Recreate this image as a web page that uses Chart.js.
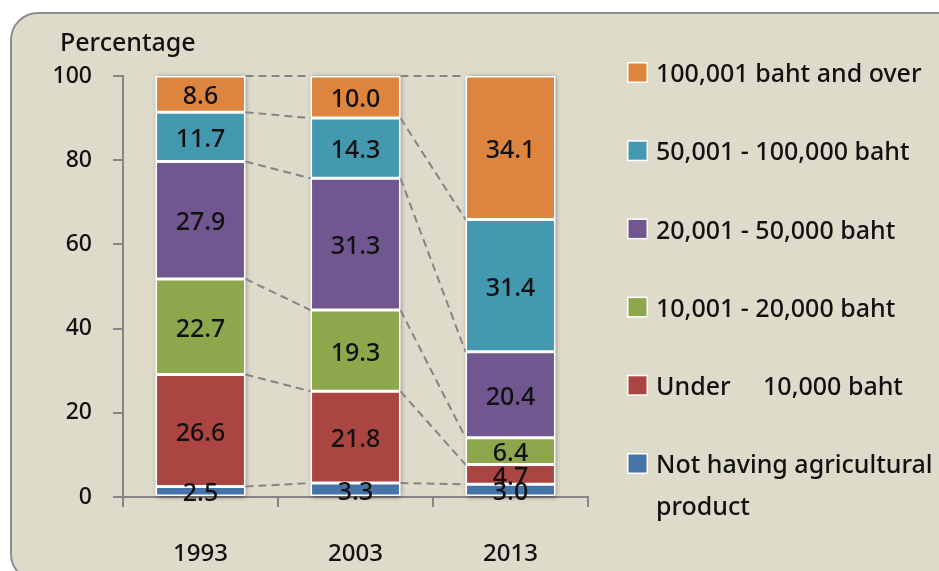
<!DOCTYPE html>
<html><head><meta charset="utf-8">
<script src="https://cdn.jsdelivr.net/npm/chart.js@4.4.1/dist/chart.umd.min.js"></script>
<style>
html,body{margin:0;padding:0;background:#fff;overflow:hidden;width:939px;height:571px}
#frame{position:absolute;left:10px;top:12px;width:960px;height:570px;border:2px solid #8d8d8d;border-radius:28px;background:#DEDBCB;box-sizing:border-box}
#c{position:absolute;left:0;top:0}
</style></head><body>
<div id="frame"></div>
<canvas id="c" width="939" height="571"></canvas>
<script>
const categories = ['1993', '2003', '2013'];
const yTicks = [0, 20, 40, 60, 80, 100];
const seriesNames = ['Not having agricultural product', 'Under    10,000 baht', '10,001 - 20,000 baht', '20,001 - 50,000 baht', '50,001 - 100,000 baht', '100,001 baht and over'];
const legendLines = [['Not having agricultural', 'product'], ['Under     10,000 baht'], ['10,001 - 20,000 baht'], ['20,001 - 50,000 baht'], ['50,001 - 100,000 baht'], ['100,001 baht and over']];
const notHaving = [2.5, 3.3, 3.0];
const under10k = [26.6, 21.8, 4.7];
const from10kTo20k = [22.7, 19.3, 6.4];
const from20kTo50k = [27.9, 31.3, 20.4];
const from50kTo100k = [11.7, 14.3, 31.4];
const over100k = [8.6, 10.0, 34.1];
const colors = ['#4674A8', '#AA4542', '#8CA74C', '#70578F', '#4399B0', '#DD843E'];
const seriesValues = [notHaving, under10k, from10kTo20k, from20kTo50k, from50kTo100k, over100k];

const FONT = "'Noto Sans', sans-serif";
const W = '500 ';
const AXIS = '#868686';

const overlay = {
  id: 'overlay',
  beforeDatasetsDraw(chart) {
    const ctx = chart.ctx;
    const metas = chart.data.datasets.map((d, i) => chart.getDatasetMeta(i));
    const n = chart.data.labels.length;
    ctx.save();
    for (let i = 0; i < n; i++) {
      const top = metas[metas.length - 1].data[i], bot = metas[0].data[i];
      ctx.shadowColor = 'rgba(0,0,0,0.45)';
      ctx.shadowBlur = 5; ctx.shadowOffsetX = 1; ctx.shadowOffsetY = 1;
      ctx.fillStyle = '#ffffff';
      ctx.fillRect(top.x - top.width / 2, top.y, top.width, bot.base - top.y);
    }
    ctx.restore();
    ctx.save();
    ctx.strokeStyle = '#848484'; ctx.lineWidth = 2; ctx.setLineDash([8, 5]);
    for (let i = 0; i < n - 1; i++) {
      metas.forEach(m => {
        const a = m.data[i], b = m.data[i + 1];
        ctx.beginPath();
        ctx.moveTo(a.x + a.width / 2, a.y);
        ctx.lineTo(b.x - b.width / 2, b.y);
        ctx.stroke();
      });
    }
    ctx.restore();
  },
  afterDatasetsDraw(chart) {
    const ctx = chart.ctx;
    ctx.save();
    ctx.font = W + '25px ' + FONT; ctx.fillStyle = '#111'; ctx.textAlign = 'center'; ctx.textBaseline = 'middle';
    chart.data.datasets.forEach((ds, di) => {
      chart.getDatasetMeta(di).data.forEach((el, i) => {
        ctx.fillText(ds.data[i].toFixed(1), el.x, (el.y + el.base) / 2 + 3);
      });
    });
    ctx.restore();
  },
  afterDraw(chart) {
    const ctx = chart.ctx;
    ctx.save();
    ctx.fillStyle = '#111';
    ctx.font = W + '25px ' + FONT; ctx.textAlign = 'left'; ctx.textBaseline = 'alphabetic';
    ctx.fillText('Percentage', 60, 51);
    const ds = chart.data.datasets;
    ctx.textBaseline = 'middle';
    for (let k = 0; k < ds.length; k++) {
      const di = ds.length - 1 - k;
      const yc = 75 + k * 78.2;
      ctx.fillStyle = '#ffffff';
      ctx.fillRect(627, yc - 13, 21, 21);
      ctx.fillStyle = ds[di].backgroundColor;
      ctx.fillRect(628.5, yc - 11.5, 18, 18);
      ctx.fillStyle = '#111';
      legendLines[di].forEach((line, li) => ctx.fillText(line, 656, yc + li * 42));
    }
    ctx.restore();
  }
};

new Chart(document.getElementById('c'), {
  type: 'bar',
  data: {
    labels: categories,
    datasets: seriesValues.map((vals, i) => ({
      label: seriesNames[i], data: vals, backgroundColor: colors[i],
      borderColor: '#ffffff', borderWidth: 1.5, borderSkipped: false,
      barPercentage: 0.58, categoryPercentage: 1.0
    }))
  },
  options: {
    responsive: false, animation: false, devicePixelRatio: 1,
    layout: { padding: { left: 0, top: 76, right: 351, bottom: 0 } },
    plugins: { legend: { display: false }, tooltip: { enabled: false }, title: { display: false } },
    scales: {
      x: {
        stacked: true, offset: true,
        grid: { display: true, drawOnChartArea: false, offset: true, tickLength: 10, color: AXIS, lineWidth: 2 },
        border: { display: true, color: AXIS, width: 2 },
        ticks: { color: '#111', font: { family: FONT, size: 24, weight: 500 }, padding: 33 },
        afterFit(s) { s.height = 74; }
      },
      y: {
        stacked: true, min: 0, max: 100,
        afterBuildTicks(s) { s.ticks = yTicks.map(v => ({ value: v })); },
        grid: { display: true, drawOnChartArea: false, tickLength: 10, color: AXIS, lineWidth: 2 },
        border: { display: true, color: AXIS, width: 2 },
        ticks: { color: '#111', font: { family: FONT, size: 23, weight: 500 }, padding: 21 },
        afterFit(s) { s.width = 123; }
      }
    }
  },
  plugins: [overlay]
});
</script>
</body></html>
